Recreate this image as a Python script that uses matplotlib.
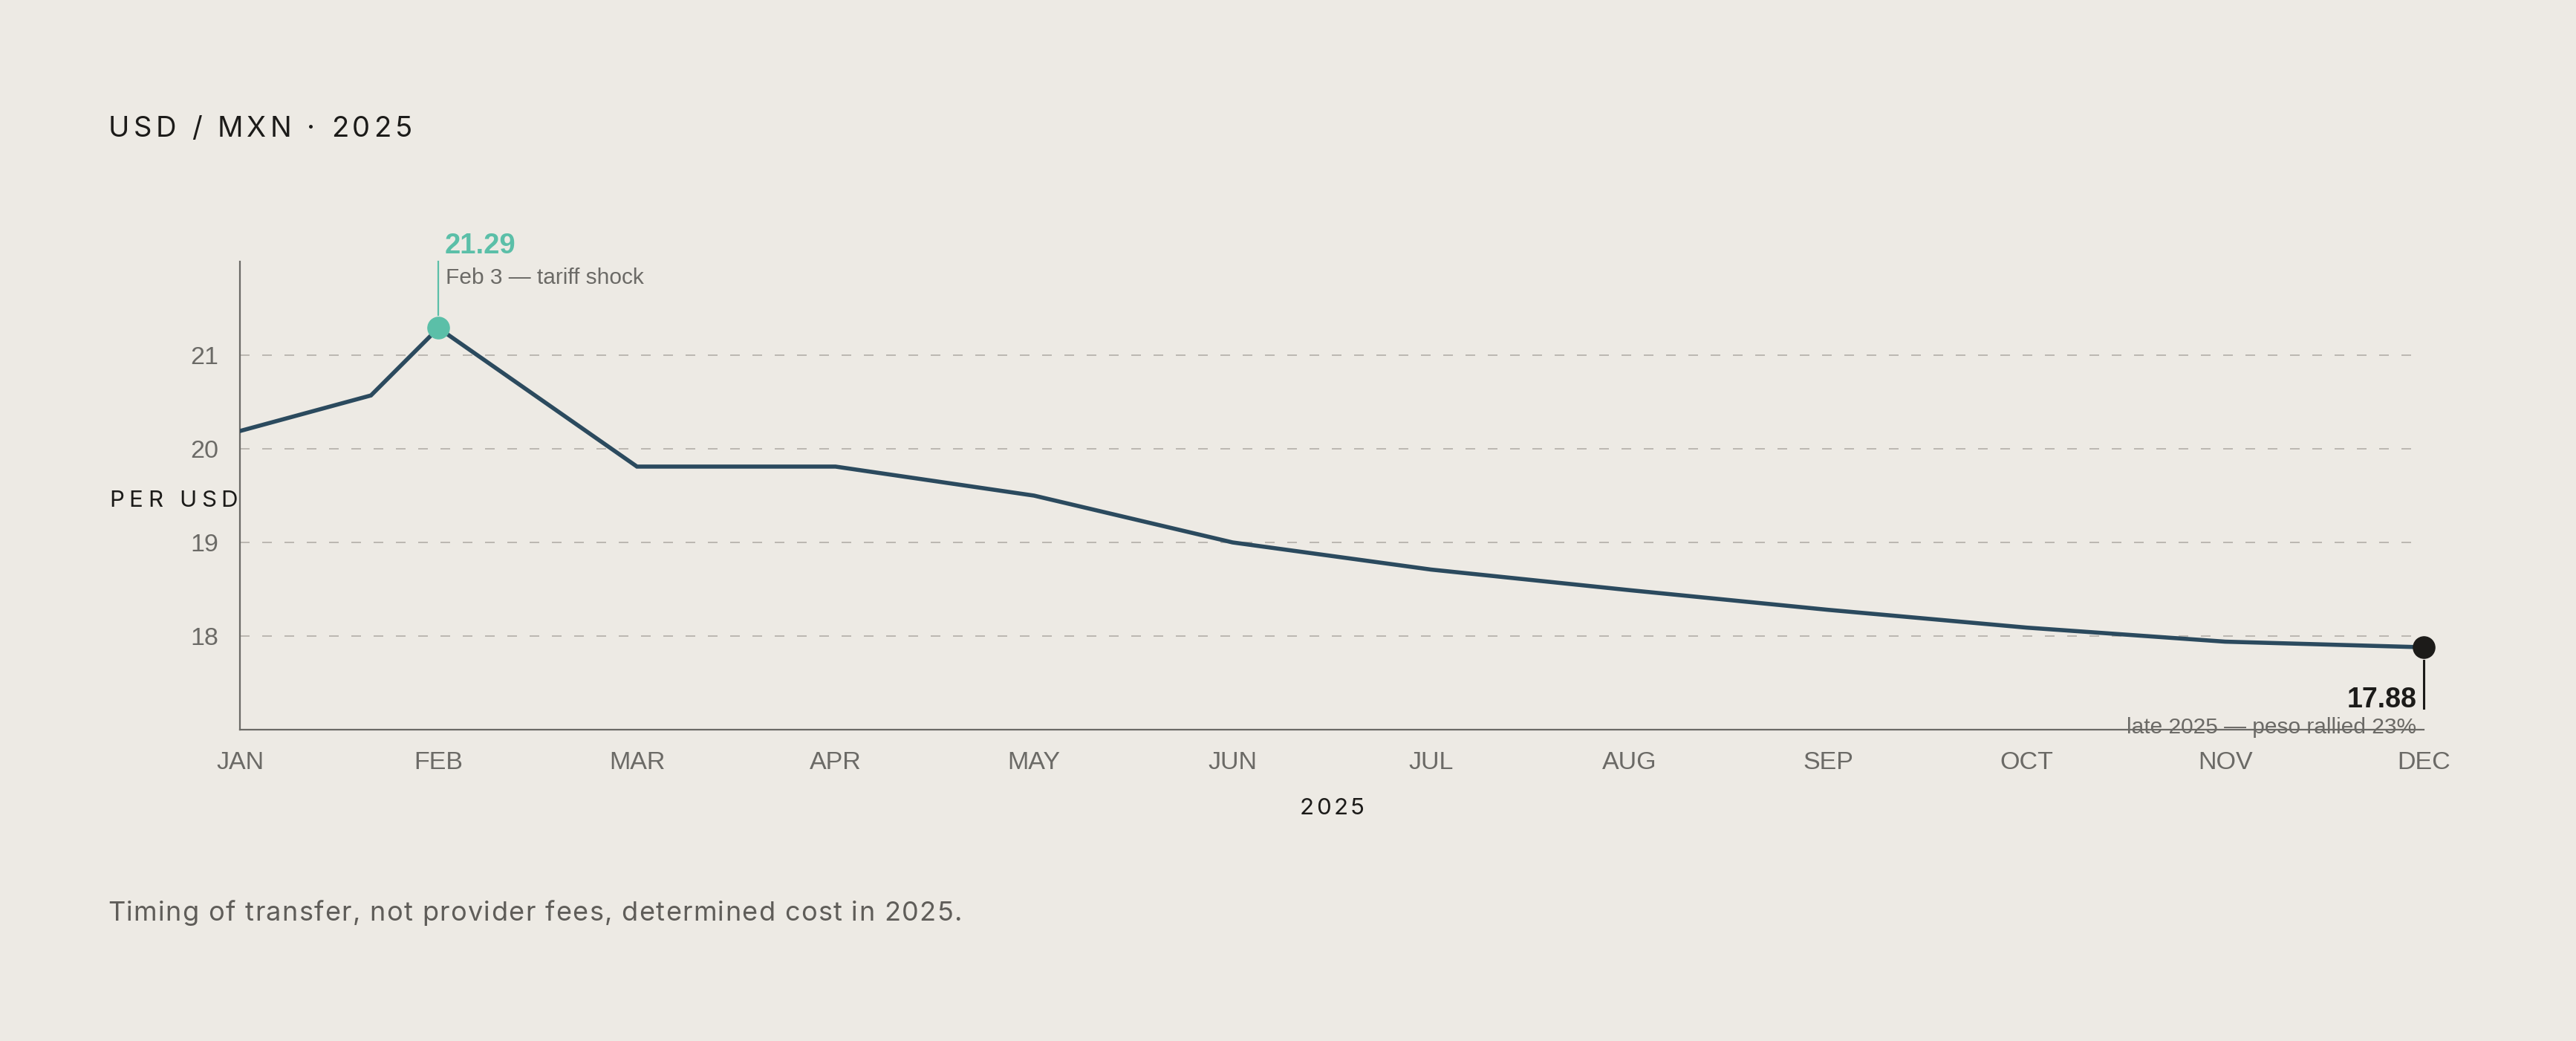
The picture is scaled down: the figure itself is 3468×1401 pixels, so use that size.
# -*- coding: utf-8 -*-
import matplotlib
matplotlib.use('Agg')
import matplotlib.pyplot as plt

W, H = 3468, 1401

# data
months = ['JAN', 'FEB', 'MAR', 'APR', 'MAY', 'JUN',
          'JUL', 'AUG', 'SEP', 'OCT', 'NOV', 'DEC']
rate_x = [0, 0.66, 1, 2, 3, 4, 5, 6, 7, 8, 9, 10, 11]
rate_y = [20.19, 20.57, 21.29, 19.81, 19.81, 19.50, 19.00, 18.71,
          18.49, 18.28, 18.09, 17.94, 17.88]
y_ticks = [18, 19, 20, 21]
peak_idx = 2
peak_label = '21.29'
peak_note = 'Feb 3 \u2014 tariff shock'
last_label = '17.88'
last_note = 'late 2025 \u2014 peso rallied 23%'

bg = '#edeae4'
ink = '#1c1b19'
grey = '#6b6a66'
navy = '#2b4a5e'
teal = '#5bbfa8'

fig = plt.figure(figsize=(W / 100, H / 100), dpi=100, facecolor=bg)
ax = fig.add_axes([323 / W, 1 - 982 / H, (3263 - 323) / W, (982 - 352) / H])
ax.set_facecolor(bg)


def tracked(x, y, s, track, ha='left', **kw):
    # draw text char by char with extra letter spacing (pixels)
    r = fig.canvas.get_renderer()
    probe = fig.text(0, 0, '', **kw)
    probe.set_text('||')
    w0 = probe.get_window_extent(r).width
    widths = []
    for ch in s:
        probe.set_text('|' + ch + '|')
        widths.append(probe.get_window_extent(r).width - w0)
    probe.remove()
    total = sum(widths) + track * (len(s) - 1)
    if ha == 'right':
        x -= total
    elif ha == 'center':
        x -= total / 2
    for ch, w in zip(s, widths):
        fig.text(x / W, 1 - y / H, ch, ha='left', va='baseline', **kw)
        x += w + track


ax.plot(rate_x, rate_y, color=navy, lw=4.0, solid_joinstyle='miter', zorder=3)

ax.set_xlim(0, 11)
ax.set_ylim(17, 22)
ax.set_xticks(range(len(months)))
ax.set_xticklabels(months)
ax.set_yticks(y_ticks)
ax.set_yticklabels([str(v) for v in y_ticks])
ax.tick_params(length=0, labelsize=24.5, labelcolor=grey, pad=21)
for lab in ax.get_xticklabels() + ax.get_yticklabels():
    lab.set_fontfamily('Liberation Sans')
ax.grid(axis='y', color='#b3afa8', lw=1.2, dashes=(7.8, 10.2))
ax.grid(axis='x', visible=False)
for side in ['top', 'right']:
    ax.spines[side].set_visible(False)
for side in ['left', 'bottom']:
    ax.spines[side].set_color(grey)
    ax.spines[side].set_linewidth(1.6)

# peak marker and label
px, py = rate_x[peak_idx], rate_y[peak_idx]
ax.plot([px], [py], 'o', ms=21, color=teal, mec=teal, zorder=4)
ax.plot([px, px], [py + 0.135, 22.0], color=teal, lw=1.6, clip_on=False, zorder=4)
ax.annotate(peak_label, (px, py), xytext=(6, 72), textcoords='offset points',
            ha='left', va='baseline', fontsize=27.5, fontweight='bold',
            color=teal, family='Liberation Sans', annotation_clip=False)
ax.annotate(peak_note, (px, py), xytext=(7, 43), textcoords='offset points',
            ha='left', va='baseline', fontsize=21.5, color=grey,
            family='Liberation Sans', annotation_clip=False)

# last point marker and label
lx, ly = rate_x[-1], rate_y[-1]
ax.plot([lx], [ly], 'o', ms=21, color=ink, mec=ink, zorder=4, clip_on=False)
ax.plot([lx, lx], [ly - 0.143, ly - 0.648], color=ink, lw=2.2, clip_on=False, zorder=4)
ax.annotate(last_label, (lx, ly), xytext=(-7, -58), textcoords='offset points',
            ha='right', va='baseline', fontsize=27, fontweight='bold',
            color=ink, family='Liberation Sans', annotation_clip=False)
ax.annotate(last_note, (lx, ly), xytext=(-7, -83.5), textcoords='offset points',
            ha='right', va='baseline', fontsize=21.5, color=grey,
            family='Liberation Sans', annotation_clip=False)

# titles and labels
tracked(146, 184, 'USD / MXN \u00b7 2025', 5.2, fontsize=27.5, color=ink, family='Inter')
tracked(320, 682, 'PER USD', 6.6, ha='right', fontsize=22.5, color=ink, family='Inter')
tracked(1793, 1096, '2025', 3.5, ha='center', fontsize=22.5, color=ink, family='Inter')
tracked(145, 1239, 'Timing of transfer, not provider fees, determined cost in 2025.', 1.35,
        fontsize=26, color='#5f5d59', family='Inter')

fig.savefig('out.png', dpi=100, facecolor=bg)
